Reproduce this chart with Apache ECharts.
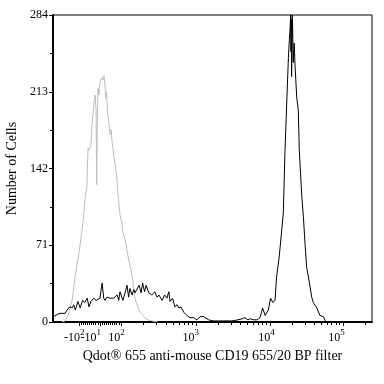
<!DOCTYPE html>
<html>
<head>
<meta charset="utf-8">
<script src="https://cdn.jsdelivr.net/npm/echarts@6/dist/echarts.min.js"></script>
<style>html,body{margin:0;padding:0;background:#fff}#c{width:384px;height:384px}</style>
</head>
<body>
<div id="c"></div>
<script>
// Display channel (0-1000, biexponential-scaled) and cell counts
const grayChannel = [28,38,47,60,69,75,82,90,94,97,100,106,108,110,114,119,122,125,129,132,135,137,139,141,144,147,153,157,160,163,165,168,171,176,179,182,185,188,191,194,198,200,204,210,215,219,226,231,235,241,246,251,254,257,263,273,282,288,298,310,329];
const grayCount   = [0,1,6,20,41,53,65,83,93,102,113,124,145,161,159,164,182,191,205,210,196,127,187,216,210,222,226,224,228,219,207,213,194,182,173,178,167,161,152,148,139,133,117,99,93,83,76,68,61,53,46,37,30,22,16,9,6,4,2,1,0];

const blackChannel = [2,6,13,22,28,38,44,53,60,65,70,78,85,93,100,107,113,119,128,135,141,147,154,159,163,169,179,190,201,206,210,219,226,232,237,241,248,253,257,263,270,276,281,287,292,300,310,319,326,332,342,350,357,363,367,375,382,389,394,401,410,420,429,441,451,461,472,488,502,519,539,561,580,593,602,611,618,630,640,649,657,665,675,682,689,696,701,709,717,722,727,733,738,741,743,745,746,747,748,750,751,753,756,759,764,769,772,780,785,790,795,804,811,816,827,837,847,856,868,1000];
const blackCount   = [5,6,7,8,9,8,11,14,13,16,11,19,13,20,18,22,14,19,22,20,21,22,36,22,20,23,22,22,25,20,28,20,27,34,23,31,25,30,27,28,34,27,36,28,34,27,25,28,23,25,20,25,22,28,19,22,14,16,13,14,9,6,4,4,2,5,5,2,1,1,1,1,2,3,4,2,3,2,2,4,13,6,11,22,18,20,42,60,85,101,156,205,245,262,270,284,250,280,227,284,277,240,258,236,208,196,159,116,97,73,51,36,23,18,13,6,5,0,0,0];

const xLabelValues = [67,118,199,432,669,889];
const xLabelBase   = ['-10','-10','10','10','10','10'];
const xLabelExp    = ['2','1','2','3','4','5'];
const xMajorTicks  = [81,147,213,448,680,909];
const yTicksInterval = 71;
const yMax = 284;

// minor tick positions (axis decoration)
const xMinorTicks = [];
for (let k = 1; k < 10; k++) { xMinorTicks.push(147 + 6.6 * k); xMinorTicks.push(147 - 6.6 * k); }
[[213,448],[448,680],[680,909],[909,1138]].forEach(([a,b]) => {
  for (let k = 2; k < 10; k++) { const v = a + Math.log10(k) * (b - a); if (v < 1000) xMinorTicks.push(v); }
});

const zip = (xs, ys) => xs.map((x, i) => [x, ys[i]]);
const font = '"Liberation Serif","DejaVu Serif",serif';
const fmt = function (v) { const i = xLabelValues.indexOf(v); return i < 0 ? '' : '{n|' + xLabelBase[i] + '}{s|' + xLabelExp[i] + '}'; };
const rich = {
  n: {fontFamily: font, fontSize: 12, color: '#000', lineHeight: 16, verticalAlign: 'bottom'},
  s: {fontFamily: font, fontSize: 9, color: '#000', verticalAlign: 'top', lineHeight: 16}
};

const chart = echarts.init(document.getElementById('c'), null, {renderer: 'canvas'});
chart.setOption({
  animation: false,
  backgroundColor: '#fff',
  grid: {left: 53, right: 12, top: 15, bottom: 62, show: true, borderColor: '#000', borderWidth: 1, backgroundColor: 'transparent', containLabel: false, outerBoundsMode: 'none'},
  xAxis: [{
    type: 'value', min: 0, max: 1000, position: 'bottom',
    name: 'Qdot® 655 anti-mouse CD19 655/20 BP filter', nameLocation: 'middle', nameGap: 26,
    nameTextStyle: {fontFamily: font, fontSize: 14, color: '#000'},
    axisLine: {show: true, onZero: false, lineStyle: {color: '#000', width: 2}},
    axisTick: {show: true, length: 4, customValues: xMajorTicks, lineStyle: {color: '#000'}},
    splitLine: {show: false},
    axisLabel: {customValues: xLabelValues.slice(1), margin: 6, color: '#000', hideOverlap: false, formatter: fmt, rich: rich}
  }, {
    type: 'value', min: 0, max: 1000, position: 'bottom',
    axisLine: {show: false}, splitLine: {show: false},
    axisTick: {show: true, length: 3, customValues: xMinorTicks, lineStyle: {color: '#000'}},
    axisLabel: {customValues: xLabelValues.slice(0, 1), margin: 6, color: '#000', hideOverlap: false, formatter: fmt, rich: rich}
  }],
  yAxis: {
    type: 'value', min: 0, max: yMax, interval: yTicksInterval,
    name: 'Number of Cells', nameLocation: 'middle', nameGap: 30,
    nameTextStyle: {fontFamily: font, fontSize: 14, color: '#000'},
    axisLine: {show: true, onZero: false, lineStyle: {color: '#000', width: 2}},
    axisTick: {show: true, length: 4, lineStyle: {color: '#000'}},
    minorTick: {show: true, splitNumber: 2, length: 3, lineStyle: {color: '#000'}},
    splitLine: {show: false},
    axisLabel: {fontFamily: font, fontSize: 12, color: '#000', margin: 5}
  },
  series: [{
    type: 'line', data: zip(grayChannel, grayCount), showSymbol: false, symbol: 'none',
    lineStyle: {color: '#bdbdbd', width: 1}, z: 2
  }, {
    type: 'line', data: zip(blackChannel, blackCount), showSymbol: false, symbol: 'none',
    lineStyle: {color: '#000', width: 1}, z: 3
  }]
});
</script>
</body>
</html>
